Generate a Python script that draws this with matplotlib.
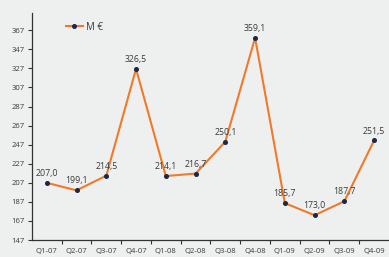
import matplotlib
matplotlib.use("Agg")
import matplotlib.pyplot as plt

categories = ["Q1-07", "Q2-07", "Q3-07", "Q4-07", "Q1-08", "Q2-08", "Q3-08", "Q4-08",
              "Q1-09", "Q2-09", "Q3-09", "Q4-09"]
values = [207.0, 199.1, 214.5, 326.5, 214.1, 216.7, 250.1, 359.1, 185.7, 173.0, 187.7, 251.5]
yticks = [147, 167, 187, 207, 227, 247, 267, 287, 307, 327, 347, 367]
series_name = "M €"

bg = "#eef0f0"
fig = plt.figure(figsize=(3.89, 2.57), dpi=100, facecolor=bg)
ax = fig.add_axes([0.082, 0.066, 0.918, 0.883], facecolor=bg)

x = list(range(len(values)))
ax.plot(x, values, color="#f07a2a", lw=1.5, marker="o", ms=2.6,
        mfc="#1b2847", mec="#1b2847", label=series_name, zorder=3)

for xi, v in zip(x, values):
    ax.annotate(f"{v:.1f}".replace(".", ","), (xi, v), xytext=(0, 3.5),
                textcoords="offset points", ha="center", va="bottom",
                fontsize=6.3, color="#3a3a3a", family="Open Sans")

ax.set_xlim(-0.5, len(values) - 0.5)
ax.set_ylim(147, 385)
ax.set_yticks(yticks)
ax.set_yticklabels([str(t) for t in yticks], fontsize=5.5, color="#3a3a3a", family="Open Sans")
ax.set_xticks([i + 0.5 for i in range(len(values) - 1)], minor=False)
ax.set_xticklabels([])
ax.set_xticks(x, minor=True)
ax.set_xticklabels(categories, minor=True, fontsize=5.5, color="#3a3a3a", family="Open Sans")
ax.tick_params(axis="x", which="minor", length=0, pad=5.5)
ax.tick_params(axis="x", which="major", length=3, width=0.8, color="#333333", direction="out")
ax.tick_params(axis="y", length=3, width=0.8, color="#333333", direction="out", pad=2)

for s in ["top", "right"]:
    ax.spines[s].set_visible(False)
for s in ["left", "bottom"]:
    ax.spines[s].set_color("#333333")
    ax.spines[s].set_linewidth(0.9)

leg = ax.legend(loc="upper left", bbox_to_anchor=(0.07, 1.0), frameon=False,
                handlelength=1.8, handletextpad=0.3,
                prop={"family": "Open Sans", "size": 7})
for t in leg.get_texts():
    t.set_color("#3a3a3a")

fig.savefig("out.png", dpi=100, facecolor=bg)
